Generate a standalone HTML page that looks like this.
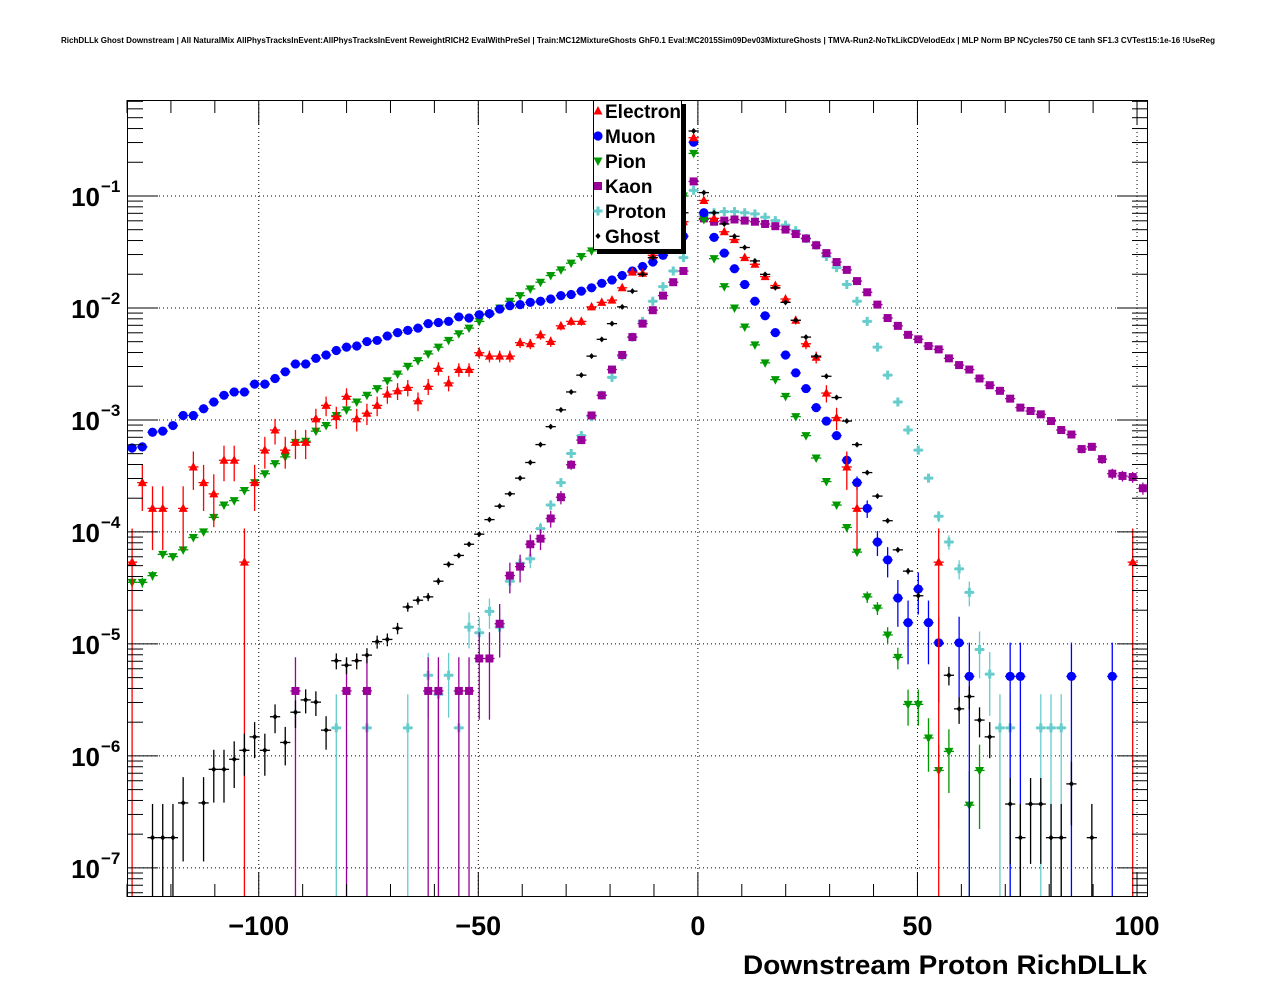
<!DOCTYPE html>
<html><head><meta charset="utf-8"><style>
html,body{margin:0;padding:0;background:#fff;}
svg{display:block;font-family:"Liberation Sans",Arial,sans-serif;}
</style></head>
<body>
<svg id="chart" width="1276" height="996" viewBox="0 0 1276 996" xmlns="http://www.w3.org/2000/svg">
<rect x="0" y="0" width="1276" height="996" fill="#fff"/>
<text x="61" y="43" font-size="8" font-weight="bold" textLength="1154" lengthAdjust="spacingAndGlyphs">RichDLLk Ghost Downstream | All NaturalMix AllPhysTracksInEvent:AllPhysTracksInEvent ReweightRICH2 EvalWithPreSel | Train:MC12MixtureGhosts GhF0.1 Eval:MC2015Sim09Dev03MixtureGhosts | TMVA-Run2-NoTkLikCDVelodEdx | MLP Norm BP NCycles750 CE tanh SF1.3 CVTest15:1e-16 !UseReg</text>
<defs><clipPath id="pc"><rect x="127" y="100" width="1021" height="797"/></clipPath></defs>
<g id="grid"></g>
<g id="marks" clip-path="url(#pc)"></g>
<rect x="127.5" y="100.5" width="1020" height="796" fill="none" stroke="#000" stroke-width="1"/>
<g id="axes"></g>
<text x="743" y="974" font-size="27" font-weight="bold" textLength="404" lengthAdjust="spacingAndGlyphs">Downstream Proton RichDLLk</text>
<g id="legend"></g>
</svg>
<script>
// ---- data (log10 of normalised entries per bin; null = empty bin) ----
const xMin = -130, xMax = 102.5, nBins = 100;
const xTicks = [-100, -50, 0, 50, 100];
const xTickLabels = ["\u2212100", "\u221250", "0", "50", "100"];
const yDecades = [-7, -6, -5, -4, -3, -2, -1];
const seriesNames = ["Electron", "Muon", "Pion", "Kaon", "Proton", "Ghost"];
const electronLog = [-4.27,-3.56,-3.79,-3.79,null,-3.79,-3.42,-3.56,-3.66,-3.36,-3.36,-4.27,-3.56,-3.27,-3.09,-3.27,-3.20,-3.20,-2.99,-2.87,-2.97,-2.79,-2.99,-2.94,-2.87,-2.77,-2.74,-2.71,-2.83,-2.70,-2.54,-2.67,-2.55,-2.55,-2.40,-2.43,-2.43,-2.43,-2.31,-2.32,-2.24,-2.30,-2.16,-2.12,-2.12,-1.99,-1.95,-1.93,-1.82,-1.68,-1.69,-1.53,-1.45,-1.35,-1.23,-0.48,-1.04,-1.20,-1.32,-1.39,-1.55,-1.61,-1.72,-1.80,-1.92,-2.11,-2.32,-2.44,-2.76,-2.98,-3.42,-3.79,null,null,null,null,null,null,null,-4.27,null,null,null,null,null,null,null,null,null,null,null,null,null,null,null,null,null,null,-4.27,null];
const muonLog = [-3.25,-3.24,-3.11,-3.10,-3.05,-2.96,-2.96,-2.90,-2.84,-2.78,-2.75,-2.75,-2.68,-2.68,-2.63,-2.57,-2.50,-2.50,-2.45,-2.42,-2.38,-2.35,-2.34,-2.30,-2.29,-2.25,-2.22,-2.20,-2.18,-2.14,-2.13,-2.12,-2.08,-2.09,-2.06,-2.05,-2.01,-1.98,-1.97,-1.95,-1.94,-1.92,-1.89,-1.88,-1.85,-1.82,-1.78,-1.75,-1.71,-1.67,-1.63,-1.59,-1.53,-1.47,-1.36,-0.52,-1.15,-1.37,-1.51,-1.65,-1.79,-1.94,-2.07,-2.22,-2.42,-2.58,-2.72,-2.89,-3.01,-3.14,-3.36,-3.56,-3.79,-4.09,-4.25,-4.59,-4.81,-4.51,-4.81,-4.99,null,-4.99,-5.29,null,null,null,-5.29,-5.29,null,null,null,null,-5.29,null,null,null,-5.29,null,null,null];
const pionLog = [-4.45,-4.45,-4.39,-4.20,-4.22,-4.16,-4.05,-4.00,-3.87,-3.76,-3.72,-3.63,-3.56,-3.48,-3.39,-3.33,-3.20,-3.19,-3.10,-3.05,-2.96,-2.91,-2.84,-2.78,-2.72,-2.65,-2.59,-2.52,-2.47,-2.41,-2.35,-2.29,-2.23,-2.18,-2.12,-2.06,-2.00,-1.94,-1.89,-1.83,-1.77,-1.71,-1.66,-1.60,-1.54,-1.49,-1.44,-1.39,-1.34,-1.29,-1.24,-1.18,-1.12,-1.06,-1.00,-0.62,-1.21,-1.56,-1.81,-2.00,-2.17,-2.33,-2.49,-2.64,-2.79,-2.97,-3.14,-3.34,-3.55,-3.76,-3.96,-4.18,-4.58,-4.68,-4.92,-5.12,-5.54,-5.54,-5.84,-6.13,-5.96,null,-6.44,-6.13,null,null,null,null,null,null,null,null,null,null,null,null,null,null,null,null];
const kaonLog = [null,null,null,null,null,null,null,null,null,null,null,null,null,null,null,null,-5.42,null,null,null,null,-5.42,null,-5.42,null,null,null,null,null,-5.42,-5.42,null,-5.42,-5.42,-5.13,-5.13,-4.82,-4.39,-4.31,-4.11,-4.06,-3.88,-3.69,-3.40,-3.18,-2.96,-2.78,-2.55,-2.42,-2.26,-2.14,-2.02,-1.89,-1.77,-1.67,-0.87,-1.20,-1.23,-1.22,-1.21,-1.22,-1.23,-1.25,-1.27,-1.30,-1.34,-1.38,-1.44,-1.51,-1.59,-1.66,-1.76,-1.86,-1.97,-2.09,-2.16,-2.24,-2.28,-2.34,-2.37,-2.45,-2.51,-2.55,-2.63,-2.69,-2.74,-2.81,-2.89,-2.92,-2.95,-3.01,-3.09,-3.13,-3.26,-3.24,-3.35,-3.48,-3.50,-3.51,-3.61];
const protonLog = [null,null,null,null,null,null,null,null,null,null,null,null,null,null,null,null,null,null,null,null,-5.75,null,null,-5.75,null,null,null,-5.75,null,-5.28,-5.45,-5.28,-5.75,-4.85,-4.90,-4.71,-4.85,-4.44,-4.28,-4.24,-3.97,-3.76,-3.56,-3.30,-3.14,-2.97,-2.78,-2.62,-2.43,-2.26,-2.12,-1.94,-1.81,-1.67,-1.55,-0.95,-1.17,-1.15,-1.14,-1.14,-1.15,-1.16,-1.19,-1.22,-1.26,-1.31,-1.38,-1.44,-1.54,-1.64,-1.79,-1.94,-2.12,-2.35,-2.60,-2.84,-3.09,-3.27,-3.52,-3.86,-4.09,-4.33,-4.54,-5.05,-5.27,-5.75,-5.75,null,null,-5.75,-5.75,-5.75,null,null,null,null,null,null,null,null];
const ghostLog = [null,null,-6.73,-6.73,-6.73,-6.42,null,-6.42,-6.12,-6.12,-6.03,-5.95,-5.83,-5.95,-5.65,-5.88,-5.61,-5.50,-5.52,-5.77,-5.15,-5.19,-5.15,-5.10,-4.98,-4.96,-4.86,-4.67,-4.61,-4.58,-4.44,-4.29,-4.21,-4.11,-4.02,-3.89,-3.77,-3.66,-3.52,-3.38,-3.22,-3.06,-2.91,-2.75,-2.60,-2.43,-2.28,-2.14,-1.99,-1.85,-1.70,-1.55,-1.42,-1.30,-1.15,-0.42,-0.97,-1.15,-1.25,-1.36,-1.46,-1.58,-1.70,-1.82,-1.95,-2.11,-2.26,-2.43,-2.61,-2.80,-3.01,-3.22,-3.47,-3.68,-3.90,-4.16,-4.35,-4.57,null,null,-5.28,-5.58,-5.47,-5.68,-5.83,null,-6.43,-6.73,-6.43,-6.43,-6.73,-6.73,-6.25,null,-6.73,null,null,null,null,null];
// single-entry weight per species (for Poisson error bars)
const unitWeightLog = [-4.27, -5.29, -6.44, -5.42, -5.75, -6.73];

const NS = "http://www.w3.org/2000/svg";
const L = 127, R = 1148, T = 100, B = 897;
const yLogMax = -0.143, yLogMin = -7.26;
const binW = (xMax - xMin) / nBins;
function sx(v){ return L + (v - xMin) / (xMax - xMin) * (R - L); }
function sy(lg){ return T + (yLogMax - lg) / (yLogMax - yLogMin) * (B - T); }
function mk(tag, attrs, parent){ const e = document.createElementNS(NS, tag); for (const k in attrs) e.setAttribute(k, attrs[k]); parent.appendChild(e); return e; }

const grid = document.getElementById('grid');
const axes = document.getElementById('axes');
const marks = document.getElementById('marks');
const legend = document.getElementById('legend');

xTicks.forEach(v => {
  const g = mk('line', {x1: sx(v), x2: sx(v), y1: T, y2: B, stroke: '#000', 'stroke-width': 1, 'stroke-dasharray': '1,3'}, grid);
  
  
});
yDecades.forEach(d => {
  const g = mk('line', {x1: L, x2: R, y1: sy(d), y2: sy(d), stroke: '#000', 'stroke-width': 1, 'stroke-dasharray': '1,3'}, grid);
  
  
});

for (let v = -130; v <= 100; v += 10) {
  const major = (v % 50 === 0);
  const len = major ? 25 : 13;
  const x = sx(v);
  mk('line', {x1: x, x2: x, y1: B, y2: B - len, stroke: '#000', 'stroke-width': 1}, axes);
  mk('line', {x1: x, x2: x, y1: T, y2: T + len, stroke: '#000', 'stroke-width': 1}, axes);
}
xTicks.forEach((v, i) => {
  const t = mk('text', {x: sx(v), y: 935, 'font-size': 27, 'font-weight': 'bold', 'text-anchor': 'middle'}, axes);
  t.textContent = xTickLabels[i];
  
  
});
for (let d = -8; d <= 0; d++) {
  for (let m = 1; m <= 9; m++) {
    const lg = d + Math.log10(m);
    if (lg < yLogMin || lg > yLogMax) continue;
    const len = (m === 1) ? 31 : 16;
    const y = sy(lg);
    mk('line', {x1: L, x2: L + len, y1: y, y2: y, stroke: '#000', 'stroke-width': 1}, axes);
    mk('line', {x1: R, x2: R - len, y1: y, y2: y, stroke: '#000', 'stroke-width': 1}, axes);
  }
}
yDecades.forEach(d => {
  const t = mk('text', {x: 100, y: sy(d) + 10, 'font-size': 26, 'font-weight': 'bold', 'text-anchor': 'end'}, axes);
  t.textContent = '10';
  
  
  const s = mk('text', {x: 101, y: sy(d) - 4, 'font-size': 17, 'font-weight': 'bold'}, axes);
  s.textContent = '\u2212' + Math.abs(d);
  
  
});

const colors = ['#ff0000', '#0000ff', '#009900', '#990099', '#66cccc', '#000000'];
function marker(kind, x, y, c, parent){
  let e;
  if (kind === 0) e = mk('polygon', {points: `${x},${y-5} ${x-4.5},${y+3.5} ${x+4.5},${y+3.5}`, fill: c}, parent);
  else if (kind === 1) e = mk('circle', {cx: x, cy: y, r: 4.6, fill: c}, parent);
  else if (kind === 2) e = mk('polygon', {points: `${x},${y+5} ${x-4.5},${y-3.5} ${x+4.5},${y-3.5}`, fill: c}, parent);
  else if (kind === 3) e = mk('rect', {x: x - 4, y: y - 4, width: 8, height: 8, fill: c}, parent);
  else if (kind === 4) e = mk('path', {d: `M${x-4.5},${y-1.5}h3v-3h3v3h3v3h-3v3h-3v-3h-3z`, fill: c}, parent);
  else e = mk('polygon', {points: `${x},${y-3} ${x-2.6},${y} ${x},${y+3} ${x+2.6},${y}`, fill: c}, parent);
  return e;
}
const allSeries = [electronLog, muonLog, pionLog, kaonLog, protonLog, ghostLog];
const order = [4, 3, 2, 1, 0, 5];
order.forEach(s => {
  const g = mk('g', {}, marks);
  
  
  const unit = Math.pow(10, unitWeightLog[s]);
  allSeries[s].forEach((lg, i) => {
    if (lg === null) return;
    const xc = xMin + binW * (i + 0.5);
    const x = sx(xc), y = sy(lg);
    const v = Math.pow(10, lg);
    const err = Math.sqrt(v / unit) * unit;
    const yTop = sy(Math.log10(v + err));
    const yBot = (v - err) > 0 ? sy(Math.log10(v - err)) : B + 5;
    mk('line', {x1: x, x2: x, y1: yTop, y2: Math.min(yBot, B + 5), stroke: colors[s], 'stroke-width': 1.3}, g);
    mk('line', {x1: sx(xc - binW / 2), x2: sx(xc + binW / 2), y1: y, y2: y, stroke: colors[s], 'stroke-width': 1.3}, g);
    const m = marker(s, x, y, colors[s], g);
    
    
  });
});

mk('rect', {x: 597, y: 104, width: 89, height: 150, fill: '#000'}, legend);
const box = mk('rect', {x: 593.5, y: 100.5, width: 88, height: 149, fill: '#fff', stroke: '#000', 'stroke-width': 1}, legend);


seriesNames.forEach((n, s) => {
  const y = 111 + 25 * s;
  const m = marker(s, 598, y, colors[s], legend);
  
  
  const t = mk('text', {x: 605, y: y + 7, 'font-size': 19, 'font-weight': 'bold'}, legend);
  t.textContent = n;
  
  
});
</script>
</body></html>
